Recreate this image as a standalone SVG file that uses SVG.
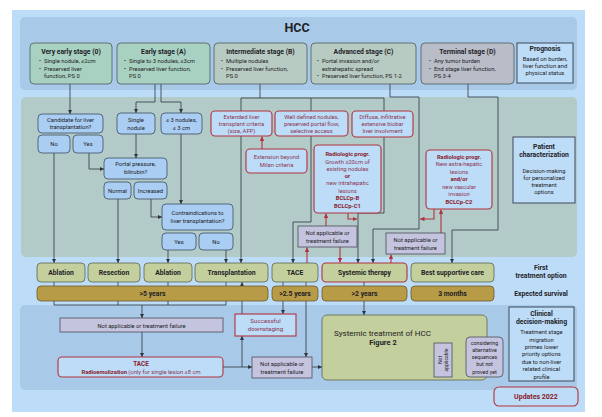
<svg xmlns="http://www.w3.org/2000/svg" width="602" height="417" viewBox="0 0 602 417">
<defs>
<marker id="ad" viewBox="0 0 10 10" refX="10" refY="5" markerWidth="4" markerHeight="4" orient="auto" markerUnits="userSpaceOnUse"><path d="M0,0 L10,5 L0,10 z" fill="#2f353c"/></marker>
<marker id="ar" viewBox="0 0 10 10" refX="10" refY="5" markerWidth="4.5" markerHeight="4.5" orient="auto" markerUnits="userSpaceOnUse"><path d="M0,0 L10,5 L0,10 z" fill="#b3323c"/></marker>
<style>
text{font-family:Roboto,"Liberation Sans",sans-serif;fill:#1d2126;font-size:5.8px}
.c{text-anchor:middle}
.b{font-weight:bold}
.h{font-size:6.8px;font-weight:bold}
.band1{fill:#a9c9e8}
.band2{fill:#b2cac8}
.st01{fill:#a8d1c1;stroke:#4b5a5e;stroke-width:.8}
.stbc{fill:#b8cbc2;stroke:#4b5a5e;stroke-width:.8}
.std{fill:#b9bdc8;stroke:#4b5a5e;stroke-width:.8}
.info{fill:#bcdcf7;stroke:#3e4b58;stroke-width:1}
.q{fill:#a9cdf3;stroke:#3e4f62;stroke-width:.8}
.red{fill:#bcdcf7;stroke:#b3323c;stroke-width:1.1}
.rt{fill:#8e3553}
.rb{fill:#8b1a2b;font-weight:bold}
.na{fill:#c5c4de;stroke:#4a4d5a;stroke-width:.8}
.tr{fill:#c3cf9c;stroke:#5c6452;stroke-width:.8}
.sv{fill:#b79b47;stroke:#6c5a2c;stroke-width:.8}
.ln{fill:none;stroke:#2f353c;stroke-width:.8}
.lr{fill:none;stroke:#b3323c;stroke-width:1.1}
</style>
</defs>

<rect x="12" y="10" width="573" height="402" fill="#bddcf8"/>
<rect class="band1" x="20" y="17" width="557" height="73" rx="5"/>
<rect class="band2" x="21" y="97" width="556" height="160" rx="5"/>
<rect class="band1" x="20" y="305" width="557" height="85" rx="5"/>
<text x="297" y="32" class="c b" style="font-size:12.5px">HCC</text>

<g id="connectors">
<path class="ln" d="M70,84 V114" marker-end="url(#ad)"/>
<path class="ln" d="M155,84 V102 H136 V113" marker-end="url(#ad)"/>
<path class="ln" d="M161,84 V102 H181 V113" marker-end="url(#ad)"/>
<path class="ln" d="M89,153 V169 H104" marker-end="url(#ad)"/>
<path class="ln" d="M136,134 V158" marker-end="url(#ad)"/>
<path class="ln" d="M54,153 V263" marker-end="url(#ad)"/>
<path class="ln" d="M118,199 V263" marker-end="url(#ad)"/>
<path class="ln" d="M151,199 V217 H162" marker-end="url(#ad)"/>
<path class="ln" d="M181,134 V204" marker-end="url(#ad)"/>
<path class="ln" d="M168,250 V263" marker-end="url(#ad)"/>
<path class="ln" d="M226,250 V263" marker-end="url(#ad)"/>
<path class="ln" d="M260,84 V98 M241,111 V98 H384 V111 M311,98 V111"/>
<path class="ln" d="M241,136 V263" marker-end="url(#ad)"/>
<path class="ln" d="M311,136 V222 H293 V263" marker-end="url(#ad)"/>
<path class="ln" d="M384,137 V213 H358 V263" marker-end="url(#ad)"/>
<path class="ln" d="M390,84 V97 H419 V229 H373 V263" marker-end="url(#ad)"/>
<path class="ln" d="M468,84 V97 H498 V230 H452 V263" marker-end="url(#ad)"/>
<path class="lr" d="M262,149 V136.5" marker-end="url(#ar)"/>
<path class="lr" d="M348,213 V219 H357" marker-end="url(#ar)"/>
<path class="lr" d="M326,226 V213.5" marker-end="url(#ar)"/>
<path class="lr" d="M307,263 V247.5" marker-end="url(#ar)"/>
<path class="lr" d="M340,247 V262.5" marker-end="url(#ar)"/>
<path class="lr" d="M434,209 V219 H420" marker-end="url(#ar)"/>
<path class="lr" d="M441,233 V209.5" marker-end="url(#ar)"/>
<path class="lr" d="M391,263 V254.5" marker-end="url(#ar)"/>
<path class="ln" d="M54,282 V305 M118,282 V305 M168,282 V305 M226,282 V305 M54,305 H226"/>
<path class="ln" d="M142,305 V318" marker-end="url(#ad)"/>
<path class="ln" d="M142,332 V357" marker-end="url(#ad)"/>
<path class="ln" d="M223,367 H252" marker-end="url(#ad)"/>
<path class="ln" d="M242,367 V336" marker-end="url(#ad)"/>
<path class="ln" d="M242,314 V282" marker-end="url(#ad)"/>
<path class="ln" d="M283,282 V314" marker-end="url(#ad)"/>
<path class="ln" d="M306,282 V357" marker-end="url(#ad)"/>
<path class="ln" d="M312,367 H322" marker-end="url(#ad)"/>
<path class="ln" d="M364,282 V315" marker-end="url(#ad)"/>
<path class="ln" d="M381,352 V361 H434" marker-end="url(#ad)"/>
<path class="ln" d="M452,361 H466" marker-end="url(#ad)"/>
</g>

<g id="stage0">
<rect class="st01" x="30" y="43" width="82" height="41" rx="4"/>
<text x="71" y="54" class="c h">Very early stage (0)</text>
<text x="39" y="63">•</text><text x="44" y="63">Single nodule, ≤2cm</text>
<text x="39" y="70.5">•</text><text x="44" y="70.5">Preserved liver</text>
<text x="44" y="78">function, PS 0</text>
</g>
<g id="stageA">
<rect class="st01" x="117" y="43" width="93" height="41" rx="4"/>
<text x="163.5" y="54" class="c h">Early stage (A)</text>
<text x="124" y="63">•</text><text x="129" y="63">Single to 3  nodules, ≤3cm</text>
<text x="124" y="70.5">•</text><text x="129" y="70.5">Preserved liver function,</text>
<text x="129" y="78">PS 0</text>
</g>
<g id="stageB">
<rect class="stbc" x="214" y="43" width="93" height="41" rx="4"/>
<text x="260.5" y="54" class="c h">Intermediate stage (B)</text>
<text x="221" y="63">•</text><text x="226" y="63">Multiple nodules</text>
<text x="221" y="70.5">•</text><text x="226" y="70.5">Preserved liver function,</text>
<text x="226" y="78">PS 0</text>
</g>
<g id="stageC">
<rect class="stbc" x="311" y="43" width="105" height="41" rx="4"/>
<text x="363.5" y="54" class="c h">Advanced stage (C)</text>
<text x="317" y="63">•</text><text x="322" y="63">Portal invasion and/or</text>
<text x="322" y="70.5">extrahepatic spread</text>
<text x="317" y="78">•</text><text x="322" y="78">Preserved liver function, PS 1-2</text>
</g>
<g id="stageD">
<rect class="std" x="421" y="43" width="93" height="41" rx="4"/>
<text x="467.5" y="54" class="c h">Terminal stage (D)</text>
<text x="429" y="63">•</text><text x="434" y="63">Any tumor burden</text>
<text x="429" y="70.5">•</text><text x="434" y="70.5">End stage liver function,</text>
<text x="434" y="78">PS 3-4</text>
</g>
<g id="prognosis">
<rect class="info" x="517" y="43" width="56" height="40"/>
<text x="545" y="51" class="c h">Prognosis</text>
<text x="545" y="60.5" class="c">Based on burden,</text>
<text x="545" y="67.5" class="c">liver function and</text>
<text x="545" y="74.5" class="c">physical status</text>
</g>

<g id="candidate">
<rect class="q" x="38" y="114" width="65" height="19" rx="4"/>
<text x="70.5" y="121.5" class="c">Candidate for liver</text>
<text x="70.5" y="129" class="c">transplantation?</text>
</g>
<g id="cand-no"><rect class="q" x="38" y="135" width="32" height="18" rx="4"/><text x="54" y="146" class="c">No</text></g>
<g id="cand-yes"><rect class="q" x="73" y="135" width="30" height="18" rx="4"/><text x="88" y="146" class="c">Yes</text></g>
<g id="single">
<rect class="q" x="117" y="113" width="38" height="21" rx="4"/>
<text x="136" y="121.5" class="c">Single</text><text x="136" y="129.5" class="c">nodule</text>
</g>
<g id="three">
<rect class="q" x="161" y="113" width="41" height="21" rx="4"/>
<text x="181.5" y="121.5" class="c">≤ 3 nodules,</text><text x="181.5" y="129.5" class="c">≤ 3 cm</text>
</g>
<g id="portal">
<rect class="q" x="104" y="158" width="63" height="21" rx="4"/>
<text x="135.5" y="166" class="c">Portal pressure,</text><text x="135.5" y="173.5" class="c">bilirubin?</text>
</g>
<g id="normal"><rect class="q" x="104" y="182" width="27" height="17" rx="4"/><text x="117.5" y="192.5" class="c">Normal</text></g>
<g id="increased"><rect class="q" x="134" y="182" width="33" height="17" rx="4"/><text x="150.5" y="192.5" class="c">Increased</text></g>
<g id="contra">
<rect class="q" x="162" y="204" width="71" height="26" rx="4"/>
<text x="197.5" y="215" class="c">Contraindications to</text><text x="197.5" y="222.5" class="c">liver transplantation?</text>
</g>
<g id="contra-yes"><rect class="q" x="162" y="233" width="34" height="17" rx="4"/><text x="179" y="243.5" class="c">Yes</text></g>
<g id="contra-no"><rect class="q" x="199" y="233" width="34" height="17" rx="4"/><text x="216" y="243.5" class="c">No</text></g>

<g id="extended">
<rect class="red" x="211" y="111" width="61" height="25" rx="4"/>
<text x="241.5" y="118.5" class="c rt">Extended liver</text>
<text x="241.5" y="125.5" class="c rt">transplant criteria</text>
<text x="241.5" y="132.5" class="c rt">(size, AFP)</text>
</g>
<g id="welldefined">
<rect class="red" x="275" y="111" width="73" height="25" rx="4"/>
<text x="311.5" y="118.5" class="c rt">Well defined nodules,</text>
<text x="311.5" y="125.5" class="c rt">preserved portal flow,</text>
<text x="311.5" y="132.5" class="c rt">selective access</text>
</g>
<g id="diffuse">
<rect class="red" x="352" y="111" width="61" height="26" rx="4"/>
<text x="382.5" y="118.5" class="c rt">Diffuse, infiltrative</text>
<text x="382.5" y="125.5" class="c rt">extensive biobar</text>
<text x="382.5" y="132.5" class="c rt">liver involvment</text>
</g>
<g id="milan">
<rect class="red" x="246" y="149" width="61" height="24" rx="4"/>
<text x="276.5" y="159" class="c rt">Extension beyond</text>
<text x="276.5" y="166.5" class="c rt">Milan criteria</text>
</g>
<g id="radio-b">
<rect class="red" x="314" y="145" width="67" height="68" rx="4"/>
<text x="347.5" y="156" class="c rb">Radiologic progr.</text>
<text x="347.5" y="163.5" class="c rt">Growth ≥20cm of</text>
<text x="347.5" y="170.5" class="c rt">existing nodules</text>
<text x="347.5" y="178" class="c rb">or</text>
<text x="347.5" y="185" class="c rt">new intrahepatic</text>
<text x="347.5" y="192.5" class="c rt">lesions</text>
<text x="347.5" y="200" class="c rb">BCLCp-B</text>
<text x="347.5" y="207.5" class="c rb">BCLCp-C1</text>
</g>
<g id="radio-c">
<rect class="red" x="426" y="150" width="66" height="59" rx="4"/>
<text x="459" y="158.5" class="c rb">Radiologic progr.</text>
<text x="459" y="166" class="c rt">New extra-hepatic</text>
<text x="459" y="173.5" class="c rt">lesions</text>
<text x="459" y="181" class="c rb">and/or</text>
<text x="459" y="188.5" class="c rt">new vascular</text>
<text x="459" y="196" class="c rt">invasion</text>
<text x="459" y="203.5" class="c rb">BCLCp-C2</text>
</g>
<g id="na1">
<rect class="na" x="298" y="226" width="59" height="21"/>
<text x="327.5" y="234.5" class="c">Not applicable or</text>
<text x="327.5" y="242.5" class="c">treatment failure</text>
</g>
<g id="na2">
<rect class="na" x="386" y="233" width="59" height="21"/>
<text x="415.5" y="241.5" class="c">Not applicable or</text>
<text x="415.5" y="249.5" class="c">treatment failure</text>
</g>
<g id="patient">
<rect class="info" x="513" y="137" width="62" height="66"/>
<text x="544" y="148.5" class="c h">Patient</text>
<text x="544" y="156.5" class="c h">characterization</text>
<text x="544" y="173" class="c">Decision-making</text>
<text x="544" y="180" class="c">for personalized</text>
<text x="544" y="187" class="c">treatment</text>
<text x="544" y="194" class="c">options</text>
</g>

<g id="t-ablation1"><rect class="tr" x="37" y="263" width="48" height="19" rx="4"/><text x="61" y="275" class="c h">Ablation</text></g>
<g id="t-resection"><rect class="tr" x="88" y="263" width="52" height="19" rx="4"/><text x="114" y="275" class="c h">Resection</text></g>
<g id="t-ablation2"><rect class="tr" x="144" y="263" width="48" height="19" rx="4"/><text x="168" y="275" class="c h">Ablation</text></g>
<g id="t-transplant"><rect class="tr" x="195" y="263" width="73" height="19" rx="4"/><text x="231.5" y="275" class="c h">Transplantation</text></g>
<g id="t-tace"><rect class="tr" x="272" y="263" width="46" height="19" rx="4"/><text x="295" y="275" class="c h">TACE</text></g>
<g id="t-systemic"><rect class="tr" x="322" y="263" width="85" height="19" rx="4" style="stroke:#b3323c;stroke-width:1.1"/><text x="364.5" y="275" class="c h">Systemic therapy</text></g>
<g id="t-bsc"><rect class="tr" x="411" y="263" width="83" height="19" rx="4"/><text x="452.5" y="275" class="c h">Best supportive care</text></g>
<text x="541" y="269.5" class="c h">First</text>
<text x="541" y="278" class="c h">treatment option</text>

<g id="s-5"><rect class="sv" x="37" y="286" width="231" height="15" rx="4"/><text x="152.5" y="296" class="c h">&gt;5 years</text></g>
<g id="s-25"><rect class="sv" x="272" y="286" width="46" height="15" rx="4"/><text x="295" y="296" class="c h">&gt;2.5 years</text></g>
<g id="s-2"><rect class="sv" x="322" y="286" width="85" height="15" rx="4"/><text x="364.5" y="296" class="c h">&gt;2 years</text></g>
<g id="s-3m"><rect class="sv" x="411" y="286" width="83" height="15" rx="4"/><text x="452.5" y="296" class="c h">3 months</text></g>
<text x="541" y="296" class="c h">Expected survival</text>

<g id="na-wide">
<rect class="na" x="60" y="318" width="163" height="14"/>
<text x="141.5" y="327.5" class="c">Not applicable or treatment failure</text>
</g>
<g id="tace-low">
<rect class="red" x="58" y="357" width="165" height="20" rx="4"/>
<text x="141" y="365.5" class="c rb" style="font-size:6.3px">TACE</text>
<text x="141" y="373.5" class="c rt"><tspan class="rb">Radioemolization</tspan> (only for single lesion ≤8 cm</text>
</g>
<g id="downstaging">
<rect class="red" x="235" y="314" width="61" height="22"/>
<text x="265.5" y="323" class="c rt" style="font-size:6.2px">Successful</text>
<text x="265.5" y="331" class="c rt" style="font-size:6.2px">downstaging</text>
</g>
<g id="na-small">
<rect class="na" x="252" y="357" width="60" height="21"/>
<text x="282" y="365.5" class="c">Not applicable or</text>
<text x="282" y="373.5" class="c">treatment failure</text>
</g>
<g id="systemic-box">
<rect class="tr" x="322" y="315" width="165" height="65" rx="5"/>
<text x="382.5" y="336" class="c" style="font-size:8px">Systemic treatment of HCC</text>
<text x="383" y="345" class="c b" style="font-size:7.5px">Figure 2</text>
</g>
<g id="na-vert">
<rect class="na" x="434" y="343" width="18" height="34"/>
<text transform="translate(442,360) rotate(-90)" class="c" style="font-size:5px">Not</text>
<text transform="translate(448,360) rotate(-90)" class="c" style="font-size:5px">applicable</text>
</g>
<g id="considering">
<rect class="na" x="466" y="337" width="37" height="40" rx="4"/>
<text x="484.5" y="344.5" class="c" style="font-size:5.3px">considering</text>
<text x="484.5" y="352" class="c" style="font-size:5.3px">alternative</text>
<text x="484.5" y="359" class="c" style="font-size:5.3px">sequences</text>
<text x="484.5" y="366" class="c" style="font-size:5.3px">but not</text>
<text x="484.5" y="373.5" class="c" style="font-size:5.3px">proved yet</text>
</g>
<g id="clinical">
<rect class="info" x="509" y="307" width="65" height="74"/>
<text x="541.5" y="316" class="c h">Clinical</text>
<text x="541.5" y="324" class="c h">decision-making</text>
<text x="541.5" y="334" class="c">Treatment stage</text>
<text x="541.5" y="341.5" class="c">migration</text>
<text x="541.5" y="349" class="c">primes lower</text>
<text x="541.5" y="356" class="c">priority options</text>
<text x="541.5" y="363.5" class="c">due to non-liver</text>
<text x="541.5" y="371" class="c">related clinical</text>
<text x="541.5" y="378.5" class="c">profile</text>
</g>
<g id="updates">
<rect class="red" x="494" y="387" width="84" height="19" rx="5"/>
<text x="536" y="399" class="c rb" style="font-size:7px">Updates 2022</text>
</g>
</svg>
